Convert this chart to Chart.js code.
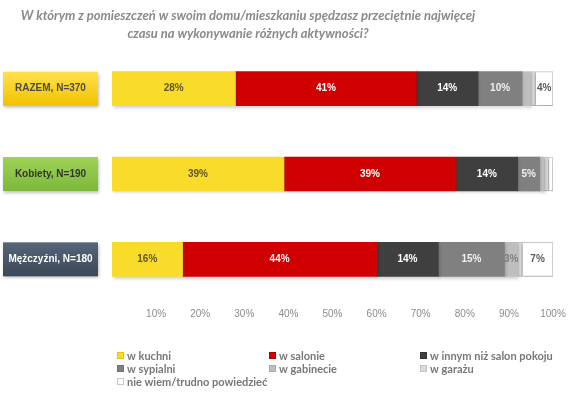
<!DOCTYPE html>
<html><head><meta charset="utf-8">
<script src="https://cdn.jsdelivr.net/npm/chart.js@4/dist/chart.umd.min.js"></script>
<style>html,body{margin:0;padding:0;background:#fff;}#wrap{width:580px;height:394px;position:relative;}</style>
</head><body><div id="wrap"><canvas id="c" width="580" height="394"></canvas></div>
<script>
const titleLines = ['W którym z pomieszczeń w swoim domu/mieszkaniu spędzasz przeciętnie najwięcej', 'czasu na wykonywanie różnych aktywności?'];
const categories = ['RAZEM, N=370', 'Kobiety, N=190', 'Mężczyźni, N=180'];
const seriesNames = ['w kuchni', 'w salonie', 'w innym niż salon pokoju', 'w sypialni', 'w gabinecie', 'w garażu', 'nie wiem/trudno powiedzieć'];
const kuchni = [28, 39, 16];
const salonie = [41, 39, 44];
const innym = [14, 14, 14];
const sypialni = [10, 5, 15];
const gabinecie = [2, 1, 3];
const garazu = [1, 1, 1];
const nieWiem = [4, 1, 7];
const xTicks = [0, 10, 20, 30, 40, 50, 60, 70, 80, 90, 100];

const seriesValues = [kuchni, salonie, innym, sypialni, gabinecie, garazu, nieWiem];
const colors = ['#F9DB2A', '#D00000', '#3F3F3F', '#808080', '#BEBEBE', '#DADADA', '#FFFFFF'];
const borders = ['#E8C400', '#B00000', '#333333', '#707070', '#AAAAAA', '#C4C4C4', '#C8C8C8'];
const labelColors = ['#5E5530', '#FFFFFF', '#FFFFFF', '#F0F0F0', '#7F7F7F', '#7F7F7F', '#595959'];
const catBoxColors = [['#FFE14D', '#F2C200'], ['#9FD256', '#7DB83A'], ['#56657A', '#3B4858']];
const catTextColors = ['#4A4A4A', '#333333', '#FFFFFF'];

const datasets = seriesNames.map((n, i) => ({
  label: n,
  data: seriesValues[i],
  backgroundColor: colors[i],
  borderColor: borders[i],
  borderWidth: i >= 5 ? 1 : 0,
  barThickness: 34,
  borderSkipped: false
}));

const titlePlugin = {
  id: 'titleP',
  afterDraw(chart) {
    const ctx = chart.ctx;
    ctx.save();
    ctx.fillStyle = '#8A8A8A';
    ctx.font = 'italic bold 13px Lato';
    ctx.textAlign = 'center';
    ctx.textBaseline = 'middle';
    ctx.fillText(titleLines[0], 248, 16);
    ctx.fillText(titleLines[1], 248, 34);
    ctx.restore();
  }
};

const catPlugin = {
  id: 'catBoxes',
  afterDraw(chart) {
    const ctx = chart.ctx;
    const ys = chart.scales.y;
    ctx.save();
    categories.forEach((c, i) => {
      const yc = ys.getPixelForValue(i);
      const x = 3, w = 95, h = 34, y = yc - h / 2;
      ctx.shadowColor = 'rgba(0,0,0,0.25)';
      ctx.shadowBlur = 3; ctx.shadowOffsetX = 1; ctx.shadowOffsetY = 2;
      const g = ctx.createLinearGradient(0, y, 0, y + h);
      g.addColorStop(0, catBoxColors[i][0]);
      g.addColorStop(1, catBoxColors[i][1]);
      ctx.fillStyle = g;
      ctx.fillRect(x, y, w, h);
      ctx.shadowColor = 'transparent';
      ctx.fillStyle = catTextColors[i];
      ctx.font = 'bold 10px "Liberation Sans"';
      ctx.textAlign = 'center';
      ctx.textBaseline = 'middle';
      ctx.fillText(c, x + w / 2, yc);
    });
    ctx.restore();
  }
};

const shadowPlugin = {
  id: 'barShadow',
  beforeDatasetsDraw(chart) {
    const ctx = chart.ctx;
    ctx.save();
    ctx.shadowColor = 'rgba(0,0,0,0.18)';
    ctx.shadowBlur = 3; ctx.shadowOffsetY = 2; ctx.shadowOffsetX = 1;
  },
  afterDatasetsDraw(chart) { chart.ctx.restore(); }
};

const labelPlugin = {
  id: 'valLabels',
  afterDatasetsDraw(chart) {
    const ctx = chart.ctx;
    ctx.save();
    ctx.font = 'bold 10px "Liberation Sans"';
    ctx.textAlign = 'center';
    ctx.textBaseline = 'middle';
    chart.data.datasets.forEach((ds, di) => {
      const meta = chart.getDatasetMeta(di);
      meta.data.forEach((el, j) => {
        const v = ds.data[j];
        if (v < 3) return;
        ctx.fillStyle = labelColors[di];
        ctx.fillText(v + '%', (el.x + el.base) / 2, el.y);
      });
    });
    ctx.restore();
  }
};

const legendPlugin = {
  id: 'gridLegend',
  afterDraw(chart) {
    const ctx = chart.ctx;
    const colX = [117, 269, 420];
    const rowY = [356, 369, 382];
    ctx.save();
    ctx.font = 'bold 11px Lato';
    ctx.textBaseline = 'middle';
    ctx.textAlign = 'left';
    chart.data.datasets.forEach((ds, i) => {
      const x = colX[i % 3], y = rowY[Math.floor(i / 3)];
      ctx.fillStyle = ds.backgroundColor;
      ctx.fillRect(x, y - 4, 7, 7);
      ctx.strokeStyle = ds.borderColor;
      ctx.lineWidth = 1;
      ctx.strokeRect(x + 0.5, y - 3.5, 6, 6);
      ctx.fillStyle = '#777777';
      ctx.fillText(ds.label, x + 10, y);
    });
    ctx.restore();
  }
};

new Chart(document.getElementById('c'), {
  type: 'bar',
  data: { labels: categories, datasets },
  options: {
    indexAxis: 'y',
    responsive: false,
    animation: false,
    layout: { padding: { left: 112, right: 27, top: 46, bottom: 0 } },
    plugins: { legend: { display: false }, title: { display: false }, tooltip: { enabled: false } },
    scales: {
      x: {
        stacked: true, min: 0, max: 100,
        afterBuildTicks(s) { s.ticks = xTicks.map(v => ({ value: v })); },
        afterFit(s) { s.height = 92; },
        grid: { display: false, drawTicks: false },
        border: { display: false },
        ticks: { padding: 6, color: '#8C8C8C', font: { size: 10, family: '"Liberation Sans"' }, callback: v => v === 0 ? '' : v + '%' }
      },
      y: { stacked: true, display: false }
    }
  },
  plugins: [shadowPlugin, labelPlugin, catPlugin, titlePlugin, legendPlugin]
});
</script></body></html>
